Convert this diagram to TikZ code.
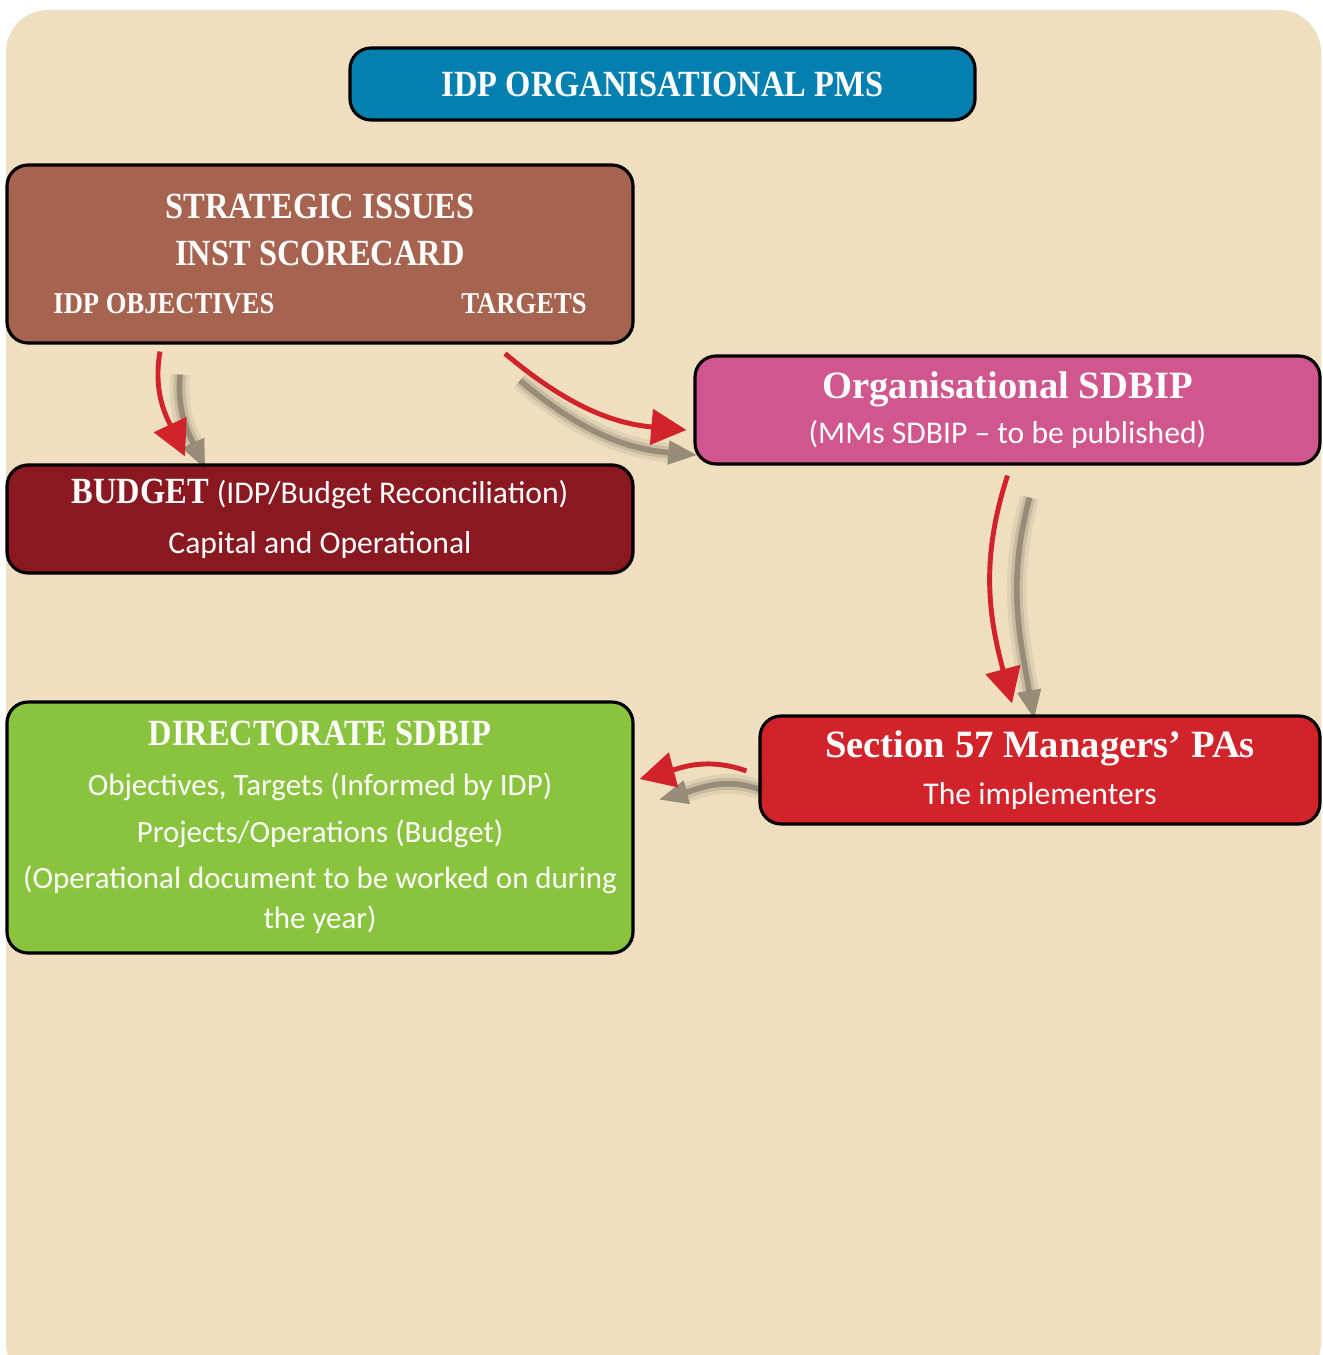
\documentclass[tikz,border=0pt]{standalone}
\usepackage{fontspec}
\setmainfont{Carlito}
\newfontfamily\headfont[FakeStretch=0.88]{Liberation Serif}
\newfontfamily\namefont{Liberation Serif}
\usetikzlibrary{arrows.meta,positioning}

\definecolor{paper}{HTML}{EFDEC0}
\definecolor{pmsblue}{HTML}{0380B0}
\definecolor{stratbrown}{HTML}{A6634F}
\definecolor{orgpink}{HTML}{D1568E}
\definecolor{budgetred}{HTML}{8A1820}
\definecolor{dirgreen}{HTML}{8AC43F}
\definecolor{secred}{HTML}{D2232A}

\begin{document}
\begin{tikzpicture}[
    box/.style={draw=black, line width=0.9pt, rounded corners=6pt, text=white,
                align=center, inner sep=0pt},
    head/.style={font=\headfont\bfseries\fontsize{10.5}{13.3}\selectfont},
    flow/.style={draw=secred, line width=1.4pt,
                 -{Triangle[width=10pt,length=10pt]}},
    shade/.style={draw=black, line width=1.6pt, opacity=.25,
                  -{Triangle[width=7pt,length=8pt,line width=0pt]},
                  preaction={draw=black, line width=3.4pt, opacity=.1},
                  preaction={draw=black, line width=5.6pt, opacity=.06}}]
  \useasboundingbox (0,0) rectangle (13.22,-13.55);
  \fill[paper, rounded corners=12pt] (0.06,-0.10) rectangle (13.21,-13.85);

  % boxes
  \node[box, fill=pmsblue, minimum width=6.25cm, minimum height=0.72cm, head]
    (pms) at (6.625,-0.84) {IDP ORGANISATIONAL PMS};
  \node[box, fill=stratbrown, minimum width=6.26cm, minimum height=1.78cm, head]
    (strat) at (3.20,-2.54) {STRATEGIC ISSUES\\INST SCORECARD\\[0.4pt]
      {\fontsize{8.6}{10}\selectfont IDP OBJECTIVES\hspace{1.87cm}TARGETS}};
  \node[box, fill=orgpink, minimum width=6.25cm, minimum height=1.08cm]
    (org) at (10.075,-4.10) {{\namefont\bfseries\fontsize{11}{13}\selectfont
      Organisational SDBIP}\\[1pt]
      {\fontsize{9}{11}\selectfont (MMs SDBIP -- to be published)}};
  \node[box, fill=budgetred, minimum width=6.26cm, minimum height=1.08cm]
    (budget) at (3.20,-5.19) {{\headfont\bfseries\fontsize{10.5}{13}\selectfont
      BUDGET} {\fontsize{9}{11}\selectfont (IDP/Budget Reconciliation)}\\[2.2pt]
      {\fontsize{9}{11}\selectfont Capital and Operational}};
  \node[box, fill=dirgreen, minimum width=6.26cm, minimum height=2.51cm]
    (dir) at (3.20,-8.275) {{\headfont\bfseries\fontsize{10.5}{13}\selectfont
      DIRECTORATE SDBIP}\\[2.2pt]
      {\fontsize{8.8}{11}\selectfont Objectives, Targets (Informed by IDP)}\\[1.3pt]
      {\fontsize{8.8}{11}\selectfont Projects/Operations (Budget)}\\[1.3pt]
      {\fontsize{8.8}{11}\selectfont (Operational document to be worked on during}\\[-0.6pt]
      {\fontsize{8.8}{11}\selectfont the year)}};
  \node[box, fill=secred, minimum width=5.6cm, minimum height=1.08cm]
    (sec) at (10.40,-7.70) {{\namefont\bfseries\fontsize{11}{13}\selectfont
      Section 57 Managers’ PAs}\\[1.5pt]
      {\fontsize{9}{11}\selectfont The implementers}};

  % shadows of the arrows
  \draw[shade] ([shift={(-1.40,-0.30)}]strat.south) to[out=-95,in=115]
    ([shift={(-1.15,-0.05)}]budget.north);
  \draw[shade] ([shift={(2.00,-0.36)}]strat.south) to[out=-40,in=175]
    ([shift={(0.03,-0.45)}]org.west);
  \draw[shade] ([shift={(0.22,-0.32)}]org.south) to[out=-105,in=100]
    ([shift={(-0.06,-0.04)}]sec.north);
  \draw[shade] ([shift={(0.03,-0.2)}]sec.west) to[out=160,in=15]
    ([shift={(0.25,0.28)}]dir.east);

  % arrows
  \draw[flow] ([shift={(-1.60,-0.07)}]strat.south) to[out=-100,in=115]
    ([shift={(-1.35,0.07)}]budget.north);
  \draw[flow] ([shift={(1.85,-0.09)}]strat.south) to[out=-40,in=175]
    ([shift={(-0.07,-0.20)}]org.west);
  \draw[flow] ([shift={(0.0,-0.10)}]org.south) to[out=-108,in=105]
    ([shift={(-0.28,0.11)}]sec.north);
  \draw[flow] ([shift={(-0.12,-0.01)}]sec.west) to[out=160,in=15]
    ([shift={(0.05,0.485)}]dir.east);
\end{tikzpicture}
\end{document}
